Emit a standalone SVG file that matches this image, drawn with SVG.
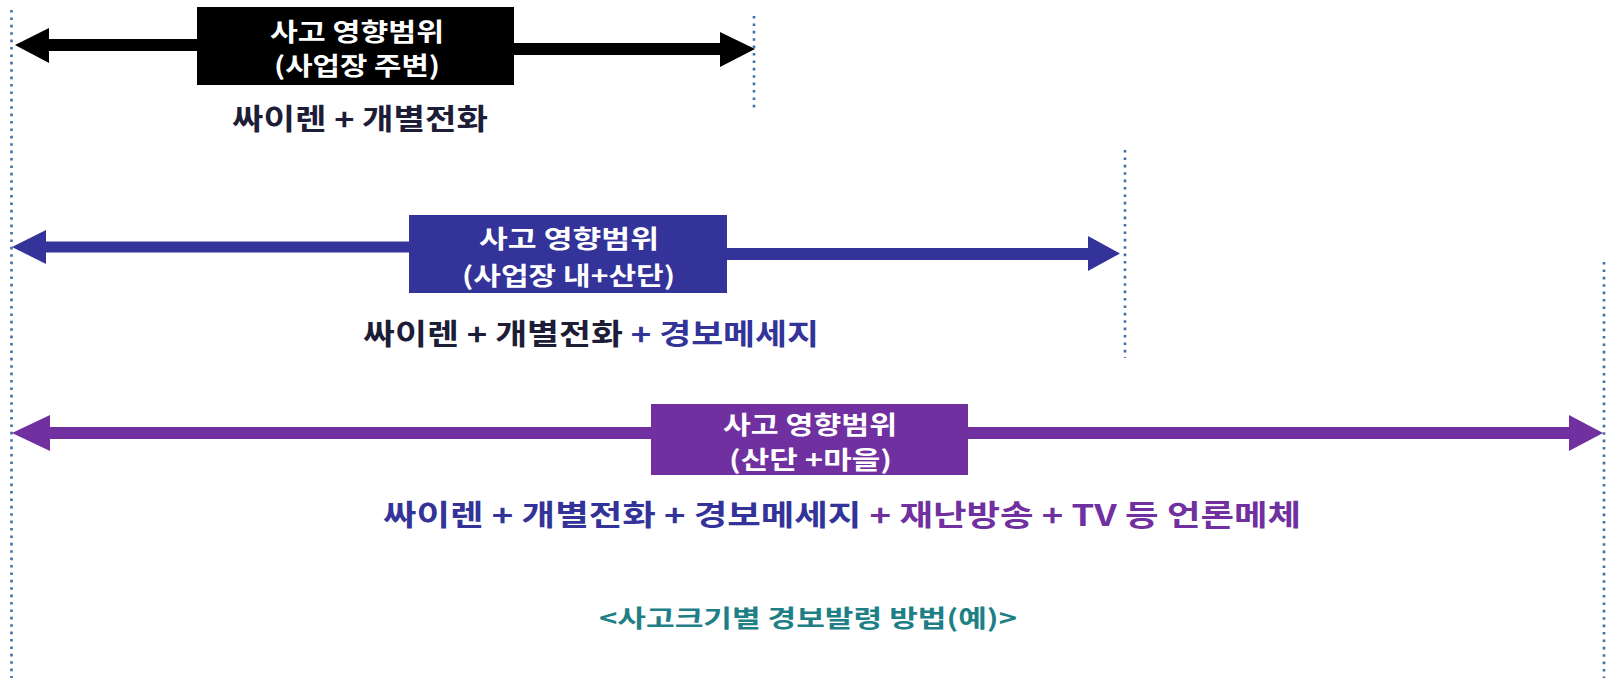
<svg xmlns="http://www.w3.org/2000/svg" width="1611" height="678" viewBox="0 0 1611 678">
<style>
.dot{stroke:#3f6fa6;stroke-width:2.6;stroke-dasharray:2.6 4.8;fill:none}
.t{font-family:"Noto Sans CJK KR","Noto Sans",sans-serif;font-weight:bold;text-anchor:middle}
.w{fill:#ffffff;font-size:25px}
.lbl{font-size:29px}
.dk{fill:#1d1d38}
.bl{fill:#333399}
.pu{fill:#7030a0}
.cap{font-size:24px;fill:#1e7f86}
</style>
<rect width="1611" height="678" fill="#ffffff"/>
<g id="guides">
<line class="dot" x1="11.5" y1="10" x2="11.5" y2="678"/>
<line class="dot" x1="754" y1="16" x2="754" y2="112"/>
<line class="dot" x1="1125" y1="150" x2="1125" y2="358"/>
<line class="dot" x1="1604" y1="262" x2="1604" y2="678"/>
</g>
<g id="connectors">
<polygon fill="#000000" points="15,45 49,28 49,39 197,39 197,51 49,51 49,63"/>
<polygon fill="#000000" points="514,43 720,43 720,32 755,49 720,67 720,55 514,55"/>
<polygon fill="#333399" points="12,247 46,230 46,241.5 409,241.5 409,252.5 46,252.5 46,264"/>
<polygon fill="#333399" points="727,248 1088,248 1088,236 1120,253.5 1088,271 1088,260 727,260"/>
<polygon fill="#7030a0" points="12,433 50,415 50,427 651,427 651,439 50,439 50,451"/>
<polygon fill="#7030a0" points="968,427 1569,427 1569,415 1603,433 1569,451 1569,439 968,439"/>
</g>
<g id="node-1">
<rect x="197" y="7" width="317" height="78" fill="#000000"/>
<text class="t w" x="357" y="41" textLength="174" lengthAdjust="spacingAndGlyphs">사고 영향범위</text>
<text class="t w" x="357" y="75" textLength="166" lengthAdjust="spacingAndGlyphs">(사업장 주변)</text>
</g>
<g id="label-1">
<text class="t lbl dk" x="360" y="130" textLength="256" lengthAdjust="spacingAndGlyphs">싸이렌 + 개별전화</text>
</g>
<g id="node-2">
<rect x="409" y="215" width="318" height="78" fill="#333399"/>
<text class="t w" x="569" y="248" textLength="180" lengthAdjust="spacingAndGlyphs">사고 영향범위</text>
<text class="t w" x="568.5" y="285" textLength="213" lengthAdjust="spacingAndGlyphs">(사업장 내+산단)</text>
</g>
<g id="label-2">
<text class="t lbl dk" x="591" y="345" textLength="456" lengthAdjust="spacingAndGlyphs">싸이렌 + 개별전화 <tspan class="bl">+ 경보메세지</tspan></text>
</g>
<g id="node-3">
<rect x="651" y="404" width="317" height="71" fill="#7030a0"/>
<text class="t w" x="810" y="434" textLength="174" lengthAdjust="spacingAndGlyphs">사고 영향범위</text>
<text class="t w" x="810.5" y="469" textLength="163" lengthAdjust="spacingAndGlyphs">(산단 +마을)</text>
</g>
<g id="label-3">
<text class="t lbl bl" x="842" y="526" textLength="918" lengthAdjust="spacingAndGlyphs">싸이렌 + 개별전화 + 경보메세지 <tspan class="pu">+ 재난방송 + TV 등 언론메체</tspan></text>
</g>
<g id="caption">
<text class="t cap" x="808" y="627" textLength="418" lengthAdjust="spacingAndGlyphs">&lt;사고크기별 경보발령 방법(예)&gt;</text>
</g>
</svg>
